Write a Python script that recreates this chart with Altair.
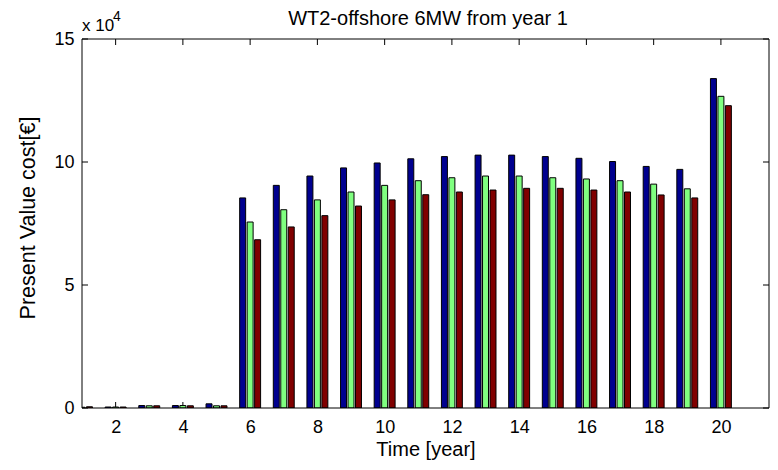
import altair as alt
import pandas as pd

# ---- data ----
years = list(range(1, 21))
series_names = ["Series 1", "Series 2", "Series 3"]
blue = [400, 400, 1000, 1000, 1700, 85400, 90500, 94300, 97600, 99600,
        101300, 102200, 102800, 102800, 102200, 101500, 100200, 98200, 97000, 133900]
green = [300, 400, 900, 1000, 900, 75600, 80600, 84600, 87800, 90500,
         92400, 93600, 94300, 94300, 93600, 93100, 92400, 91000, 89100, 126700]
red = [500, 400, 900, 900, 900, 68400, 73600, 78200, 82100, 84600,
       86700, 87800, 88600, 89300, 89300, 88600, 87800, 86600, 85400, 122900]
colors = ["#00008F", "#80FF80", "#800000"]
x_ticks = [2, 4, 6, 8, 10, 12, 14, 16, 18, 20]
y_ticks = [0, 50000, 100000, 150000]

title_text = "WT2-offshore 6MW from year 1"
x_title = "Time [year]"
y_title = "Present Value cost[€]"

rows = []
for k, vals in enumerate([blue, green, red]):
    for yr, v in zip(years, vals):
        rows.append({"year": yr, "k": k, "series": series_names[k], "value": v})
df = pd.DataFrame(rows)

W, H = 687, 369
FONT = "Liberation Sans"
xscale = alt.Scale(domain=[1, 21.43], nice=False, zero=False)
yscale = alt.Scale(domain=[0, 150000], nice=False)

x_axis = alt.Axis(values=x_ticks, title=None, labelFontSize=18, labelFont=FONT,
                  labelColor="black", labelPadding=10, ticks=False, domain=False,
                  grid=False, labelFlush=False)
y_axis = alt.Axis(values=y_ticks, title=None, labelFontSize=18, labelFont=FONT,
                  labelColor="black", labelPadding=8, ticks=False, domain=False,
                  grid=False, labelExpr="datum.value / 10000", labelFlush=False)

bars = alt.Chart(df).transform_calculate(
    x0="datum.year + (datum.k - 1) * 0.2222 - 0.0889",
    x1="datum.year + (datum.k - 1) * 0.2222 + 0.0889",
    zero="0",
).mark_bar(stroke="black", strokeWidth=1, clip=True).encode(
    x=alt.X("x0:Q", scale=xscale, axis=x_axis),
    x2="x1:Q",
    y=alt.Y("value:Q", scale=yscale, axis=y_axis),
    y2="zero:Q",
    color=alt.Color("series:N", scale=alt.Scale(domain=series_names, range=colors), legend=None),
)

df_xt = pd.DataFrame({"t": x_ticks})
df_yt = pd.DataFrame({"t": y_ticks})

bottom_ticks = alt.Chart(df_xt).mark_rule(color="black", strokeWidth=1).encode(
    x=alt.X("t:Q", scale=xscale, axis=x_axis), y=alt.value(H), y2=alt.value(H - 6))
top_ticks = alt.Chart(df_xt).mark_rule(color="black", strokeWidth=1).encode(
    x=alt.X("t:Q", scale=xscale, axis=x_axis), y=alt.value(0), y2=alt.value(6))
left_ticks = alt.Chart(df_yt).mark_rule(color="black", strokeWidth=1).encode(
    y=alt.Y("t:Q", scale=yscale, axis=y_axis), x=alt.value(0), x2=alt.value(6))
right_ticks = alt.Chart(df_yt).mark_rule(color="black", strokeWidth=1).encode(
    y=alt.Y("t:Q", scale=yscale, axis=y_axis), x=alt.value(W - 6), x2=alt.value(W))

one = pd.DataFrame({"a": [0]})
box = alt.Chart(one).mark_rect(fillOpacity=0, stroke="black", strokeWidth=1).encode(
    x=alt.value(0), x2=alt.value(W), y=alt.value(0), y2=alt.value(H))

title = alt.Chart(one).mark_text(text=title_text, font=FONT, fontSize=20, color="black",
                                 align="center", baseline="alphabetic").encode(
    x=alt.value(346), y=alt.value(-14))
xt = alt.Chart(one).mark_text(text=x_title, font=FONT, fontSize=20, color="black",
                              align="center", baseline="alphabetic").encode(
    x=alt.value(344), y=alt.value(417))
yt = alt.Chart(one).mark_text(text=y_title, font=FONT, fontSize=21.5, color="black",
                              align="center", baseline="alphabetic", angle=270).encode(
    x=alt.value(-47), y=alt.value(179))
exp_base = alt.Chart(one).mark_text(text="x 10", font=FONT, fontSize=17, color="black",
                                    align="left", baseline="alphabetic").encode(
    x=alt.value(0), y=alt.value(-8))
exp_sup = alt.Chart(one).mark_text(text="4", font=FONT, fontSize=14, color="black",
                                   align="left", baseline="alphabetic").encode(
    x=alt.value(31), y=alt.value(-18))

chart = alt.layer(
    bottom_ticks, top_ticks, left_ticks, right_ticks, bars, box,
    title, xt, yt, exp_base, exp_sup,
).properties(
    width=W, height=H,
    autosize=alt.AutoSizeParams(type="none"),
    padding={"left": 74, "top": 31, "right": 1, "bottom": 54},
    background="white",
).configure_view(stroke=None)

chart.save("out.html", embed_options={"renderer": "svg", "actions": False})
